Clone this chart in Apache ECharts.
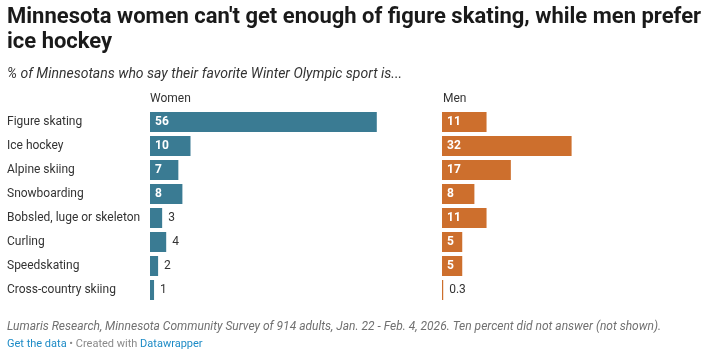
<!DOCTYPE html>
<html>
<head>
<meta charset="utf-8">
<script src="https://cdn.jsdelivr.net/npm/echarts@6/dist/echarts.min.js"></script>
<style>
html,body{margin:0;padding:0;background:#fff;}
#chart{width:706px;height:356px;}
</style>
</head>
<body>
<div id="chart"></div>
<script>
const categories = ["Figure skating","Ice hockey","Alpine skiing","Snowboarding","Bobsled, luge or skeleton","Curling","Speedskating","Cross-country skiing"];
const women = [56, 10, 7, 8, 3, 4, 2, 1];
const men = [11, 32, 17, 8, 11, 5, 5, 0.3];
const groupLabels = ["Women", "Men"];

const FONT = "Roboto, 'Noto Sans', sans-serif";
const WOMEN_COLOR = "#3a7b93";
const MEN_COLOR = "#cd6f2d";
const PX_PER_UNIT = 4.05;
const AXIS_MAX = 60;

function makeData(values) {
  return values.map(v => {
    const inside = v >= 5;
    return {
      value: v,
      label: inside ? {
        show: true, position: 'insideLeft', distance: 5,
        color: '#ffffff', fontWeight: 'bold', fontSize: 12, fontFamily: FONT
      } : {
        show: true, position: 'right', distance: 6,
        color: '#333333', fontWeight: 'normal', fontSize: 12, fontFamily: FONT
      }
    };
  });
}

const chart = echarts.init(document.getElementById('chart'), null, {renderer: 'canvas'});
const gridW = AXIS_MAX * PX_PER_UNIT;
chart.setOption({
  animation: false,
  backgroundColor: '#ffffff',
  title: [
    {
      text: "Minnesota women can't get enough of figure skating, while men prefer\nice hockey",
      left: 7, top: 5, padding: 0,
      textStyle: {fontFamily: FONT, fontSize: 22, fontWeight: 'bold', color: '#1a1a1a', lineHeight: 25}
    },
    {
      text: "% of Minnesotans who say their favorite Winter Olympic sport is...",
      left: 7, top: 67, padding: 0,
      textStyle: {fontFamily: FONT, fontSize: 14, fontStyle: 'italic', fontWeight: 'normal', color: '#333333'}
    },
    {
      text: groupLabels[0], left: 150, top: 93, padding: 0,
      textStyle: {fontFamily: FONT, fontSize: 12, fontWeight: 'normal', color: '#333333'}
    },
    {
      text: groupLabels[1], left: 443, top: 93, padding: 0,
      textStyle: {fontFamily: FONT, fontSize: 12, fontWeight: 'normal', color: '#333333'}
    },
    {
      text: "Lumaris Research, Minnesota Community Survey of 914 adults, Jan. 22 - Feb. 4, 2026. Ten percent did not answer (not shown).",
      left: 7, top: 321, padding: 0,
      textStyle: {fontFamily: FONT, fontSize: 12, fontStyle: 'italic', fontWeight: 'normal', color: '#707070'}
    },
    {
      text: "{a|Get the data}{b| • Created with }{a|Datawrapper}",
      left: 7, top: 339, padding: 0,
      textStyle: {
        fontFamily: FONT, fontSize: 11, fontWeight: 'normal',
        rich: {
          a: {fontFamily: FONT, fontSize: 11, color: '#1d8bc6'},
          b: {fontFamily: FONT, fontSize: 11, color: '#8a8a8a'}
        }
      }
    }
  ],
  grid: [
    {left: 150, top: 110, width: gridW, height: 192, containLabel: false},
    {left: 442, top: 110, width: gridW, height: 192, containLabel: false}
  ],
  xAxis: [
    {type: 'value', gridIndex: 0, min: 0, max: AXIS_MAX, show: false},
    {type: 'value', gridIndex: 1, min: 0, max: AXIS_MAX, show: false}
  ],
  yAxis: [
    {
      type: 'category', gridIndex: 0, data: categories, inverse: true,
      axisLine: {show: false}, axisTick: {show: false}, splitLine: {show: false},
      axisLabel: {align: 'left', margin: 143, fontFamily: FONT, fontSize: 12, color: '#333333'}
    },
    {
      type: 'category', gridIndex: 1, data: categories, inverse: true,
      axisLine: {show: false}, axisTick: {show: false}, splitLine: {show: false},
      axisLabel: {show: false}
    }
  ],
  series: [
    {
      name: groupLabels[0], type: 'bar', xAxisIndex: 0, yAxisIndex: 0,
      data: makeData(women), barWidth: 20, itemStyle: {color: WOMEN_COLOR}
    },
    {
      name: groupLabels[1], type: 'bar', xAxisIndex: 1, yAxisIndex: 1,
      data: makeData(men), barWidth: 20, itemStyle: {color: MEN_COLOR}
    }
  ]
});
</script>
</body>
</html>
